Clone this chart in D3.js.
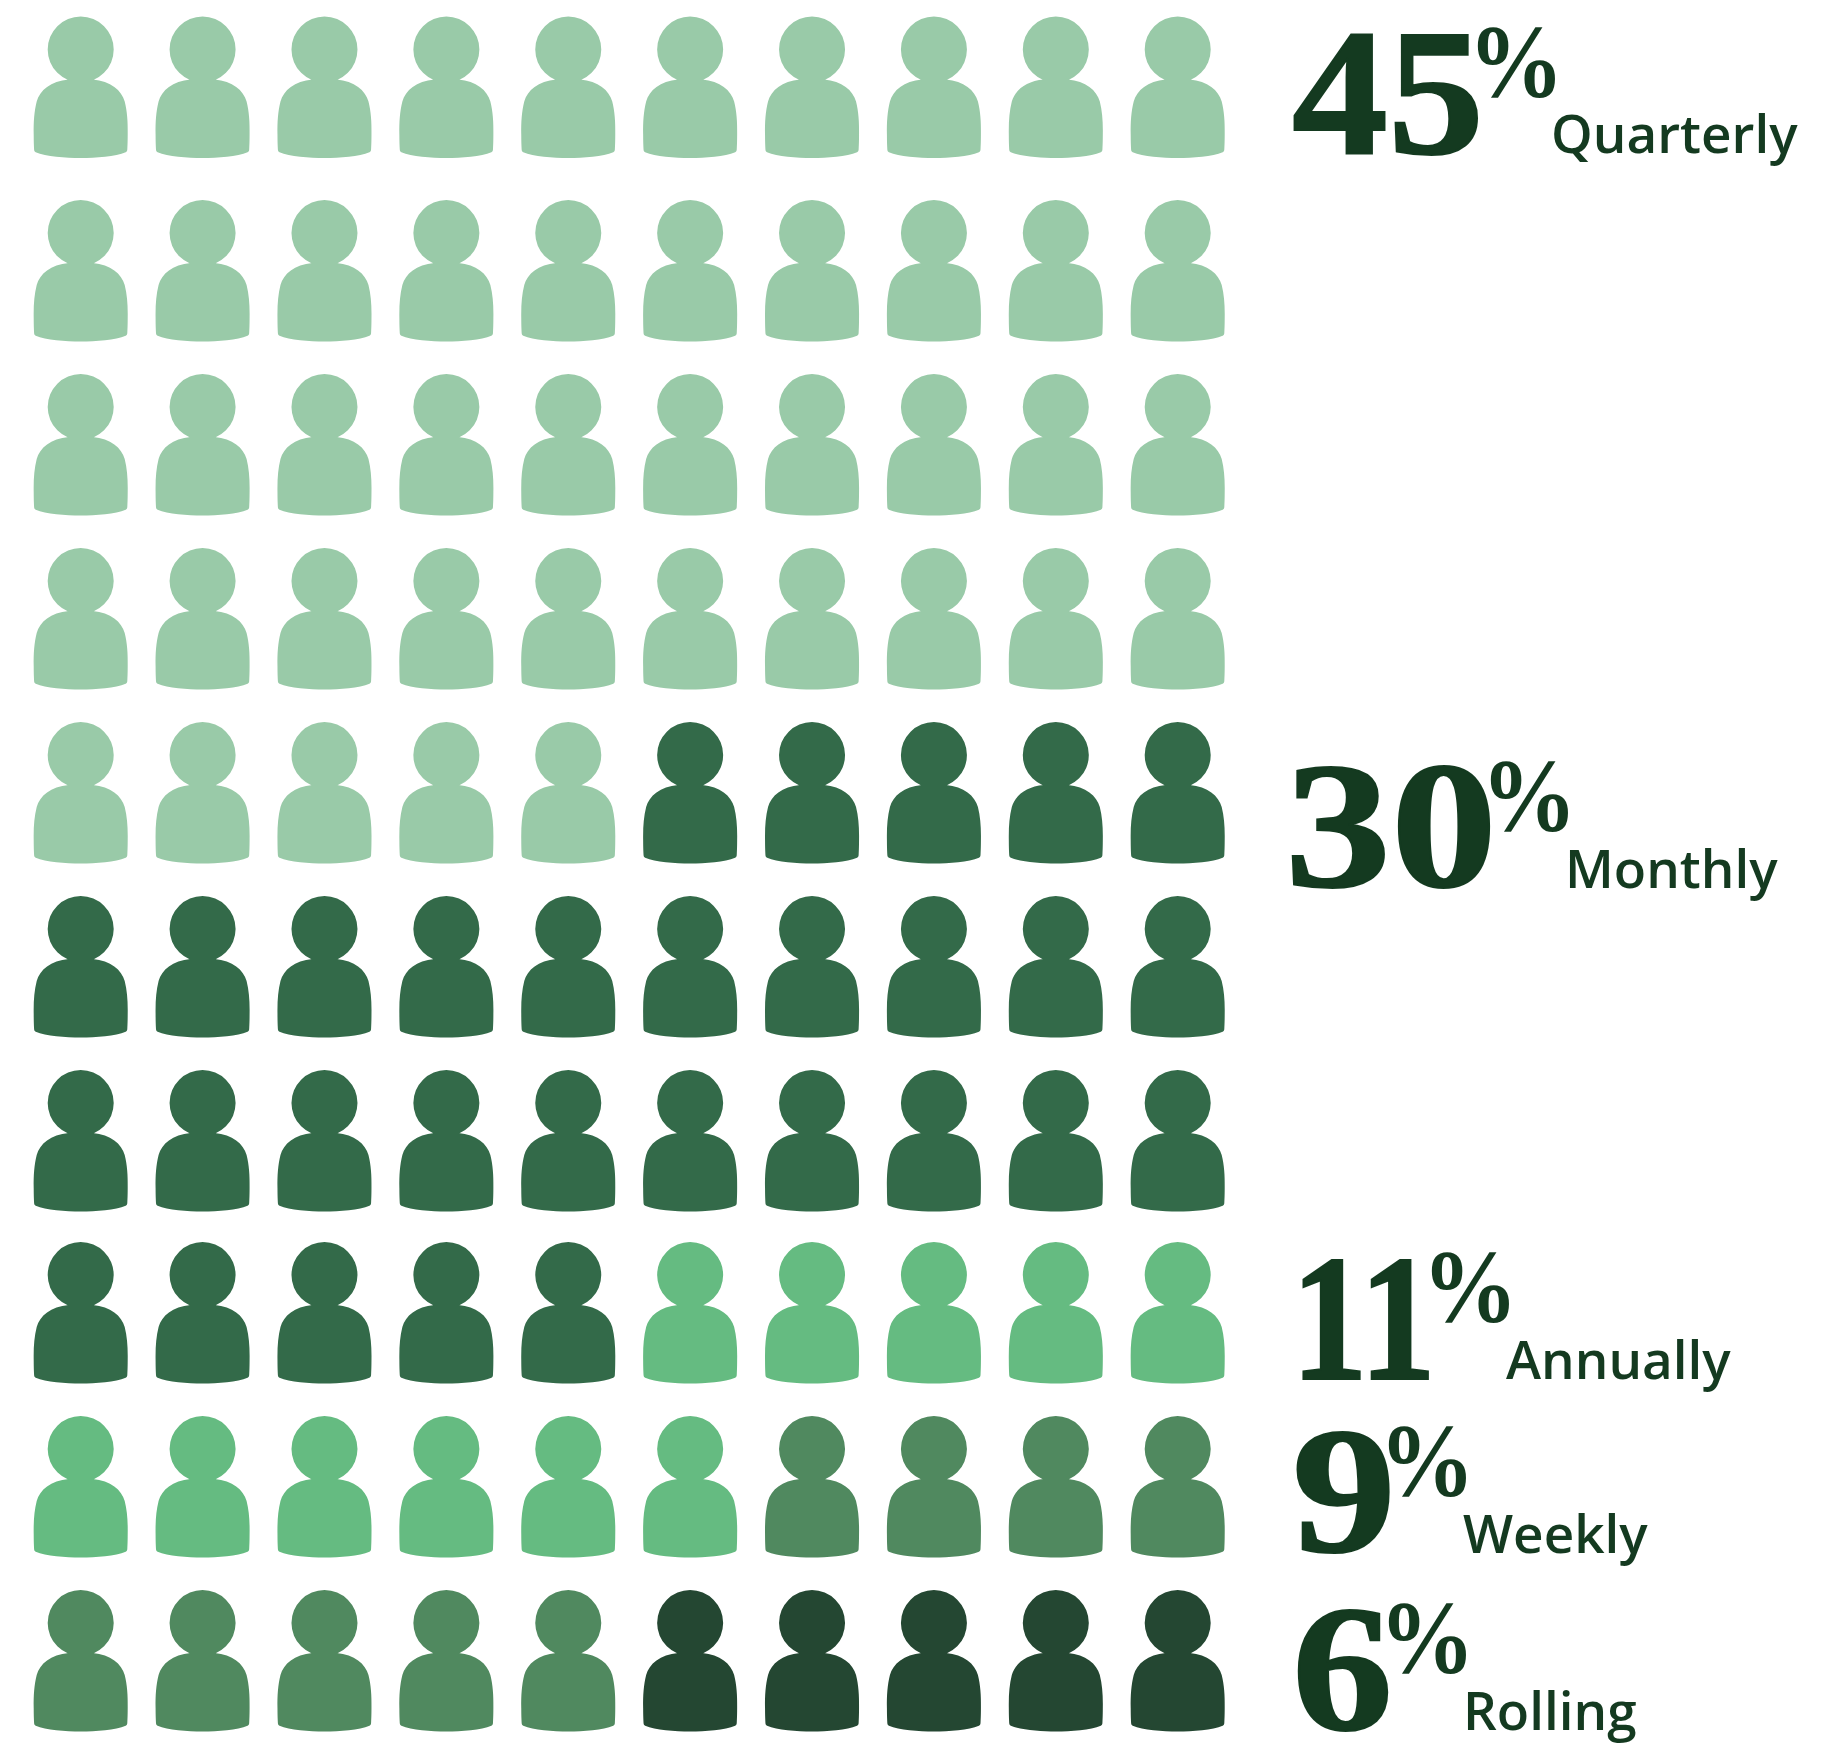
<!DOCTYPE html>
<html>
<head>
<meta charset="utf-8">
<script src="https://cdn.jsdelivr.net/npm/d3@7"></script>
<style>
  html, body { margin: 0; background: #fff; }
  svg { display: block; }
</style>
</head>
<body>
<svg id="chart" width="1844" height="1744"></svg>
<script>
// Payment frequency shares, one icon per person in a ten-by-ten grid
const categories = ["Quarterly", "Monthly", "Annually", "Weekly", "Rolling"];
const shares = [45, 30, 11, 9, 6];
const percentSign = "%";

const palette = ["#99CAA8", "#336A49", "#65BB81", "#50895F", "#244732"];
const inkColor = "#143A20";

const gridColumns = d3.range(10);
const gridRows = d3.range(10);
const rowCentres = [49.5, 233, 407, 581, 755, 929, 1103, 1275, 1449, 1623];

// Text placement for each category: number, percent sign, then label
const numberX = [1292, 1285, 1291, 1292, 1292];
const numberWidth = [192, 212, 145, 104, 101];
const numberBaseline = [153, 886, 1379, 1551, 1729];
const percentX = [1468, 1481, 1422, 1379, 1379];
const percentBaseline = [97, 831, 1322, 1496, 1673];
const labelX = [1551, 1565, 1506, 1463, 1463];
const labelBaseline = [153, 888, 1379, 1553, 1730];

const svg = d3.select("#chart");

const x = d3.scalePoint().domain(gridColumns).range([80.7, 1177.7]);
const y = d3.scaleOrdinal().domain(gridRows).range(rowCentres);

// Running totals decide which share each grid cell belongs to
const cumulative = d3.cumsum(shares);
const cellColor = d3.scaleThreshold()
  .domain(Array.from(cumulative).slice(0, -1))
  .range(palette);

// Person icon: head at the origin, body traced down one side and mirrored
function personPath() {
  const half = [
    [-30, 31.5, -41, 41, -44, 52],
    [-46.5, 62, -47.2, 72, -47, 85],
    [-47, 92, -46.8, 96, -46.6, 100],
    [-46.5, 101.5, -46, 102.3, -45, 102.8],
    [-35, 107, -15, 108.6, 0, 108.6]
  ];
  const p = d3.path();
  p.moveTo(33, 0);
  p.arc(0, 0, 33, 0, 2 * Math.PI, true);
  p.closePath();
  p.moveTo(-12, 30);
  half.forEach(c => p.bezierCurveTo(...c));
  const start = [[-12, 30], ...half.map(c => c.slice(4))];
  for (let i = half.length - 1; i >= 0; i--) {
    const c = half[i];
    p.bezierCurveTo(-c[2], c[3], -c[0], c[1], -start[i][0], start[i][1]);
  }
  p.closePath();
  return p.toString();
}
const iconPath = personPath();

const cells = d3.cross(gridRows, gridColumns).map(([r, c]) => ({ r, c, index: r * 10 + c }));

svg.append("g").attr("class", "icons")
  .selectAll("path")
  .data(cells)
  .join("path")
  .attr("d", iconPath)
  .attr("transform", d => `translate(${x(d.c)},${y(d.r)})`)
  .attr("fill", d => cellColor(d.index));

const labels = svg.append("g").attr("class", "labels")
  .selectAll("g")
  .data(categories.map((name, i) => ({ name, share: shares[i], i })))
  .join("g")
  .attr("fill", inkColor);

labels.append("text")
  .attr("x", d => numberX[d.i])
  .attr("y", d => numberBaseline[d.i])
  .attr("font-family", "'Liberation Serif', serif")
  .attr("font-weight", 700)
  .attr("font-size", 180)
  .attr("textLength", d => numberWidth[d.i])
  .attr("lengthAdjust", "spacingAndGlyphs")
  .attr("stroke", inkColor)
  .attr("stroke-width", 2)
  .text(d => d.share);

labels.append("text")
  .attr("x", d => percentX[d.i])
  .attr("y", d => percentBaseline[d.i])
  .attr("font-family", "'Liberation Serif', serif")
  .attr("font-weight", 700)
  .attr("font-size", 104)
  .attr("textLength", 96)
  .attr("lengthAdjust", "spacingAndGlyphs")
  .text(percentSign);

labels.append("text")
  .attr("x", d => labelX[d.i])
  .attr("y", d => labelBaseline[d.i])
  .attr("font-family", "'Open Sans', sans-serif")
  .attr("font-weight", 600)
  .attr("font-size", 53)
  .text(d => d.name);
</script>
</body>
</html>
